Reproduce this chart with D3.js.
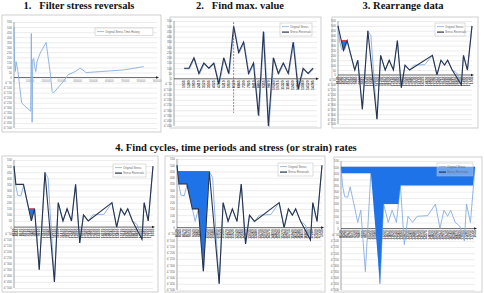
<!DOCTYPE html>
<html>
<head>
<style>
  body { margin: 0; background: #fff; }
  svg { display: block; }
  .title { font-family: "Liberation Serif", serif; font-weight: bold; font-size: 10.5px; fill: #111; white-space: pre; }
  .frame { fill: #fff; stroke: #c4c4c4; stroke-width: 0.8px; }
  .grid line { stroke: #dadada; stroke-width: 0.5px; }
  .ytick text { font-family: "Liberation Sans", sans-serif; font-size: 3px; fill: #666; }
  .xlab { font-family: "Liberation Sans", sans-serif; font-size: 3.5px; font-weight: bold; fill: #3a3a3a; }
  .orig { fill: none; stroke: #86aee0; stroke-width: 0.9px; }
  .rev { fill: none; stroke: #28334d; stroke-width: 1.1px; }
  .cycle { fill: #1f73e8; }
  .legend rect { fill: #fff; stroke: #bbb; stroke-width: 0.5px; }
  .legend text { font-family: "Liberation Sans", sans-serif; font-size: 2.8px; fill: #666; }
</style>
</head>
<body>
<svg id="chart"></svg>
<script src="https://d3js.org/d3.v7.min.js"></script>
<script>
// ---- data ----
var yTicks = [550, 500, 450, 400, 350, 300, 250, 200, 150, 100, 50, 0, -50, -100, -150, -200, -250, -300, -350, -400, -450, -500];

// panel 1: raw stress history
var rawTime = [0, 4, 8, 13, 19, 25, 48, 105, 109, 114, 118, 124, 130, 137, 145, 164, 202, 227, 240, 248, 280, 311, 339, 385, 416, 433, 454, 543, 690, 816];
var rawStress = [500, 140, 60, 157, 108, 60, -252, -334, 436, -443, 174, 190, 108, 59, 157, 239, 348, 59, -138, -154, -95, -39, 26, 59, 92, 75, 49, 59, 75, 108];
var rawTicks = [0, 100, 200, 300, 400, 500, 600, 700, 800, 900];
var rawTickLabels = ["0", "100000", "200000", "300000", "400000", "500000", "600000", "700000", "800000", "900000"];

// panel 2: filtered reversals
var revCats = ["1035", "1280", "1950", "2410", "3120", "3505", "4025", "4780", "5210", "5930", "6120", "6845", "7300", "7925", "8410", "8890", "9355", "9870", "10240", "10715", "11320", "11865", "12430", "12905", "13560", "14120", "14785"];
var revStress = [100, 100, 200, 50, 150, 100, 150, -50, 200, 50, 500, 250, 350, 50, 150, -350, 450, -450, 200, 50, 150, 50, 350, -100, 100, 50, 100];

// panels 3-6: data rearranged from the max value
var stepLabels = ["8120", "8345", "8570", "8790", "9015", "9240", "9460", "9685", "9910", "10130", "10355", "10580", "10800", "11025", "11250", "11470", "11695", "11920", "12140", "12365", "12590", "12810", "13035", "13260", "13480", "13705", "13930", "14150", "14375", "14600", "14820", "15045", "15270", "15490", "15715", "15940", "16160", "16385", "16610", "16830", "17055", "17280", "17500", "17725", "1035"];
var origT = [0, 0.5, 1.2, 2.2, 3, 4.5, 5.5, 6.5, 8, 9.8, 10.8, 12.8, 14, 15.5, 16.8, 18.2, 19.5, 20.8, 22, 23.5, 25, 28.5, 31, 32.5, 33.8, 35, 36, 37.5, 39, 40.5, 41.2, 42.5, 44];
var origV = [500, 350, 260, 255, 340, 170, 50, 150, -350, 450, 400, -450, 200, 50, 150, 50, 350, -130, 100, 50, 100, 105, 200, 0, 150, 100, 150, 50, 20, -100, 200, 50, 500];
var tailT = [12.8, 14, 15.5, 16.8, 18.2, 19.5, 20.8, 22, 23.5, 31, 32.5, 33.8, 35, 36, 37.5, 40.5, 41.2, 42.5, 44];
var tailV = [-450, 200, 50, 150, 50, 350, -130, 100, 50, 200, 0, 150, 100, 150, 50, -100, 200, 50, 500];
var rev3T = [0, 1.8, 3, 5.5, 6.5, 8, 9.8], rev3V = [500, 250, 350, 50, 150, -350, 450];
var rev4T = [0, 0.6, 3, 4.67, 5.5, 6.5, 8, 9.8], rev4V = [500, 350, 350, 150, 50, 150, -350, 450];
var rev5T = [0, 0.6, 3, 4.67, 6.5, 8, 9.8], rev5V = [500, 350, 350, 150, 150, -350, 450];
var cyc3T = [1.08, 1.8, 3], cyc3V = [350, 250, 350];
var cyc4T = [4.67, 5.5, 6.5], cyc4V = [150, 50, 150];
var cyc5T = [0.2, 0.6, 3, 4.67, 6.5, 8, 9.8], cyc5V = [450, 350, 350, 150, 150, -350, 450];
var env6T = [0, 0.2, 9.8, 12.8, 14, 18.85, 19.5, 43.3, 44], env6V = [500, 450, 450, -450, 200, 200, 350, 350, 500];

var svg = d3.select("#chart").attr("width", 484).attr("height", 293);

function zip(a, b) { return a.map(function(v, i) { return [v, b[i]]; }); }

// titles
svg.append("text").attr("class", "title").attr("x", 79).attr("y", 9).attr("text-anchor", "middle").text("1.   Filter stress reversals");
svg.append("text").attr("class", "title").attr("x", 240).attr("y", 9).attr("text-anchor", "middle").text("2.   Find max. value");
svg.append("text").attr("class", "title").attr("x", 403).attr("y", 9).attr("text-anchor", "middle").text("3. Rearrange data");
svg.append("text").attr("class", "title").attr("x", 236).attr("y", 151).attr("text-anchor", "middle").text("4. Find cycles, time periods and stress (or strain) rates");

// common panel frame: box, gridlines, y labels, axes
function panel(box, xr, yr, ydom) {
  var g = svg.append("g");
  g.append("rect").attr("class", "frame")
    .attr("x", box[0]).attr("y", box[1]).attr("width", box[2] - box[0]).attr("height", box[3] - box[1]);
  var y = d3.scaleLinear().domain(ydom).range(yr);
  var ticks = yTicks.filter(function(t) { return t >= ydom[0] && t <= ydom[1]; });
  g.append("g").attr("class", "grid").attr("transform", "translate(" + xr[0] + ",0)")
    .call(d3.axisLeft(y).tickValues(ticks).tickSize(-(xr[1] - xr[0])).tickFormat(""))
    .select(".domain").remove();
  g.append("g").attr("class", "ytick").attr("transform", "translate(" + (xr[0] - 1) + ",0)")
    .call(d3.axisLeft(y).tickValues(ticks).tickSize(0).tickPadding(1))
    .select(".domain").remove();
  g.append("line").attr("x1", xr[0]).attr("x2", xr[0]).attr("y1", yr[1]).attr("y2", yr[0])
    .attr("stroke", "#666").attr("stroke-width", 0.6);
  g.append("line").attr("x1", xr[0]).attr("x2", xr[1]).attr("y1", y(0)).attr("y2", y(0))
    .attr("stroke", "#333").attr("stroke-width", 0.7);
  g.append("path").attr("d", "M" + (xr[1] + 2) + "," + y(0) + "l-3,-1.3v2.6z").attr("fill", "#222");
  return { g: g, y: y };
}

function legend(g, x, y, w, items, bg) {
  var lg = g.append("g").attr("class", "legend");
  var h = items.length * 5.5 + 2;
  lg.append("rect").attr("x", x).attr("y", y).attr("width", w).attr("height", h)
    .style("fill-opacity", bg);
  items.forEach(function(it, i) {
    var yy = y + 3.6 + i * 5.5;
    lg.append("line").attr("x1", x + 2).attr("x2", x + 9).attr("y1", yy).attr("y2", yy)
      .attr("stroke", it.color).attr("stroke-width", it.width);
    lg.append("text").attr("x", x + 10).attr("y", yy + 1).text(it.label);
  });
}

function xLabels(g, x, y0, cats, pos) {
  g.append("g").selectAll("text").data(cats).enter().append("text")
    .attr("class", "xlab")
    .attr("transform", function(d, i) { return "translate(" + (x(pos[i]) + 1.2) + "," + (y0 + 1.5) + ") rotate(-90)"; })
    .attr("text-anchor", "end")
    .text(function(d) { return d; });
}

var legendOrig = { label: "Original Stress", color: "#86aee0", width: 0.8 };
var legendRev = { label: "Stress Reversals", color: "#28334d", width: 1.2 };

// ---- panel 1 ----
(function() {
  var p = panel([2, 15, 161, 132], [14, 157], [128, 22], [-500, 550]);
  var x = d3.scaleLinear().domain([0, 900]).range([14, 157]);
  p.g.append("g").selectAll("text").data(rawTicks).enter().append("text")
    .attr("class", "xlab").attr("x", function(d) { return x(d); }).attr("y", p.y(0) + 4)
    .attr("text-anchor", "middle").style("fill", "#888").style("font-size", "2.6px").style("font-weight", "normal")
    .text(function(d, i) { return rawTickLabels[i]; });
  p.g.append("path").attr("class", "orig")
    .attr("d", d3.line().x(function(d) { return x(d[0]); }).y(function(d) { return p.y(d[1]); })(zip(rawTime, rawStress)));
  legend(p.g, 95, 28, 58, [{ label: "Original Stress Time History", color: "#86aee0", width: 0.8 }], 0.9);
})();

// ---- panel 2 ----
(function() {
  var p = panel([170, 17, 321, 128], [174, 317], [126, 21], [-450, 550]);
  var x = d3.scalePoint().domain(revCats).range([184, 313]);
  xLabels(p.g, x, p.y(0), revCats, revCats);
  var line = d3.line().x(function(d) { return x(d[0]); }).y(function(d) { return p.y(d[1]); });
  p.g.append("path").attr("class", "orig").attr("d", line(zip(revCats, revStress))).attr("transform", "translate(0.6,0.6)");
  p.g.append("path").attr("class", "rev").attr("d", line(zip(revCats, revStress)));
  var iMax = revStress.indexOf(d3.max(revStress));
  p.g.append("line").attr("x1", x(revCats[iMax])).attr("x2", x(revCats[iMax]))
    .attr("y1", 22).attr("y2", 113).attr("stroke", "#d42a2a").attr("stroke-width", 0.7)
    .attr("stroke-dasharray", "2,1.2");
  legend(p.g, 280, 23, 32, [legendOrig, legendRev], 0.9);
})();

// panels 3-6 share the rearranged time axis
function rearranged(box, xr, yr, revT, revV, cycT, cycV, redLevel) {
  var p = panel(box, xr, yr, [-500, 550]);
  var x = d3.scaleLinear().domain([0, 44]).range(xr);
  var idx = stepLabels.map(function(d, i) { return i; });
  xLabels(p.g, x, p.y(0), stepLabels, idx);
  var line = d3.line().x(function(d) { return x(d[0]); }).y(function(d) { return p.y(d[1]); });
  if (cycT) {
    p.g.append("path").attr("class", "cycle").attr("d", line(zip(cycT, cycV)) + "Z");
    p.g.append("line").attr("x1", x(cycT[0])).attr("x2", x(cycT[cycT.length - 1]))
      .attr("y1", p.y(redLevel)).attr("y2", p.y(redLevel)).attr("stroke", "#e23a3a").attr("stroke-width", 1.1);
  }
  p.g.append("path").attr("class", "orig").attr("d", line(zip(origT, origV)));
  if (revT) {
    p.g.append("path").attr("class", "rev").attr("d", line(zip(revT.concat(tailT), revV.concat(tailV))));
  }
  return { p: p, x: x, line: line };
}

var r3 = rearranged([332, 17, 478, 128], [338, 472], [124, 21], rev3T, rev3V, cyc3T, cyc3V, 350);
legend(r3.p.g, 435, 23, 30, [legendOrig, legendRev], 0.9);

var r4 = rearranged([2, 156, 158, 292], [14, 153], [288, 160], rev4T, rev4V, cyc4T, cyc4V, 150);
legend(r4.p.g, 113, 164, 33, [legendOrig, legendRev], 0.9);

var r5 = rearranged([165, 156, 325, 292], [177, 322], [290, 159], rev5T, rev5V, cyc5T, cyc5V, 450);
legend(r5.p.g, 278, 163, 35, [legendOrig, legendRev], 0.9);

var r6 = rearranged([334, 157, 482, 292], [341, 475], [290, 161], null, null, null, null, 0);
r6.p.g.append("path").attr("class", "cycle")
  .attr("d", d3.area().x(function(d) { return r6.x(d[0]); }).y0(r6.p.y(500)).y1(function(d) { return r6.p.y(d[1]); })(zip(env6T, env6V)));
r6.p.g.append("line").attr("x1", r6.x(0)).attr("x2", r6.x(44)).attr("y1", r6.p.y(500)).attr("y2", r6.p.y(500))
  .attr("stroke", "#1550b8").attr("stroke-width", 0.8);
legend(r6.p.g, 437, 163, 36, [legendOrig, legendRev], 0.35);
</script>
</body>
</html>
